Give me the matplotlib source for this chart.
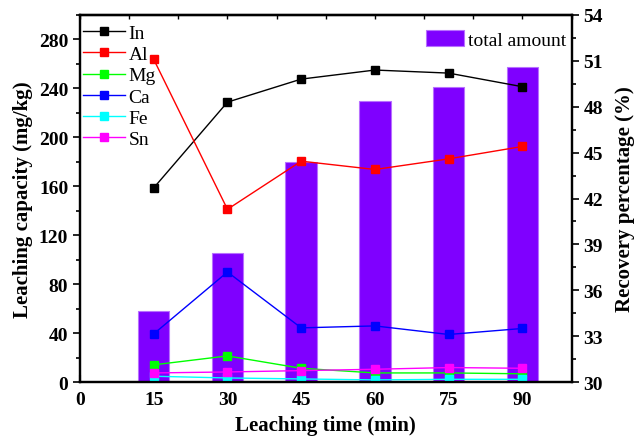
import matplotlib.pyplot as plt
from matplotlib.ticker import MultipleLocator, NullFormatter

plt.rcParams['font.family'] = ['Liberation Serif', 'DejaVu Serif']

# Data
time = [15, 30, 45, 60, 75, 90]
In = [158.7, 228.7, 247.5, 254.9, 252.4, 241.3]
Al = [263.6, 141.2, 180.5, 173.7, 182.4, 192.5]
Mg = [14.2, 21.5, 11.4, 7.6, 7.6, 6.9]
Ca = [39.5, 90.0, 44.4, 46.0, 39.0, 43.9]
Fe = [4.9, 3.5, 2.7, 1.9, 2.4, 2.4]
Sn = [7.6, 8.4, 9.5, 10.6, 12.0, 11.4]
total_recovery = [34.67, 38.44, 44.36, 48.38, 49.26, 50.58]

series = [('In', In, 'black'), ('Al', Al, 'red'), ('Mg', Mg, '#00ff00'),
          ('Ca', Ca, 'blue'), ('Fe', Fe, 'cyan'), ('Sn', Sn, 'magenta')]

fig = plt.figure(figsize=(6.35, 4.39), dpi=100)
ax = fig.add_axes([0.126, 0.127, 0.774, 0.837])
ax2 = ax.twinx()

# bars on the right axis
ax2.bar(time, total_recovery, width=6.4, color='#7f00ff', edgecolor='#b870ff',
        linewidth=0.8, label='total amount')
ax2.set_ylim(30, 54)
ax2.yaxis.set_major_locator(MultipleLocator(3))
ax2.yaxis.set_minor_locator(MultipleLocator(1.5))
ax2.set_ylabel('Recovery percentage (%)', fontsize=15, fontweight='bold', labelpad=9)
ax2.tick_params(axis='y', which='both', direction='out', labelsize=14, width=1.2)
ax2.tick_params(axis='y', which='major', length=5)
ax2.tick_params(axis='y', which='minor', length=3)
for lab in ax2.get_yticklabels():
    lab.set_fontweight('bold')
ax2.legend(loc='upper right', bbox_to_anchor=(0.994, 0.963), frameon=False,
           fontsize=14, handlelength=2.0, handleheight=0.85, borderaxespad=0,
           borderpad=0.1, handletextpad=0.2)

# lines on the left axis, drawn above the bars
ax.set_zorder(ax2.get_zorder() + 1)
ax.patch.set_visible(False)
for name, vals, c in series:
    ax.plot(time, vals, color=c, lw=1.0, marker='s', markersize=5.2,
            markeredgecolor=c, label=name)

ax.set_xlim(0, 100)
ax.set_ylim(0, 300)
ax.set_xticks([0, 15, 30, 45, 60, 75, 90])
ax.yaxis.set_major_locator(MultipleLocator(40))
ax.yaxis.set_minor_locator(MultipleLocator(20))
ax.tick_params(axis='y', which='both', direction='out', labelsize=14, width=1.2)
ax.tick_params(axis='y', which='major', length=5)
ax.tick_params(axis='y', which='minor', length=3)
ax.tick_params(axis='x', which='major', direction='in', length=5, width=1.5,
               labelsize=14, pad=6)
for lab in ax.get_xticklabels() + ax.get_yticklabels():
    lab.set_fontweight('bold')
ax.set_xlabel('Leaching time (min)', fontsize=15, fontweight='bold', labelpad=5)
ax.set_ylabel('Leaching capacity (mg/kg)', fontsize=15, fontweight='bold')

# top axis with short inward ticks every 10
top = ax.secondary_xaxis('top')
top.xaxis.set_major_locator(MultipleLocator(10))
top.xaxis.set_major_formatter(NullFormatter())
top.tick_params(axis='x', direction='in', length=3, width=1.0)

for a in (ax, ax2):
    for sp in a.spines.values():
        sp.set_linewidth(1.6)
top.spines['top'].set_linewidth(1.6)

ax.legend(loc='upper left', bbox_to_anchor=(-0.0025, 0.984), frameon=False,
          fontsize=14, handlelength=2.2, labelspacing=0.18, borderaxespad=0,
          borderpad=0.2, handletextpad=0.15)

fig.savefig('out.png', dpi=100)
